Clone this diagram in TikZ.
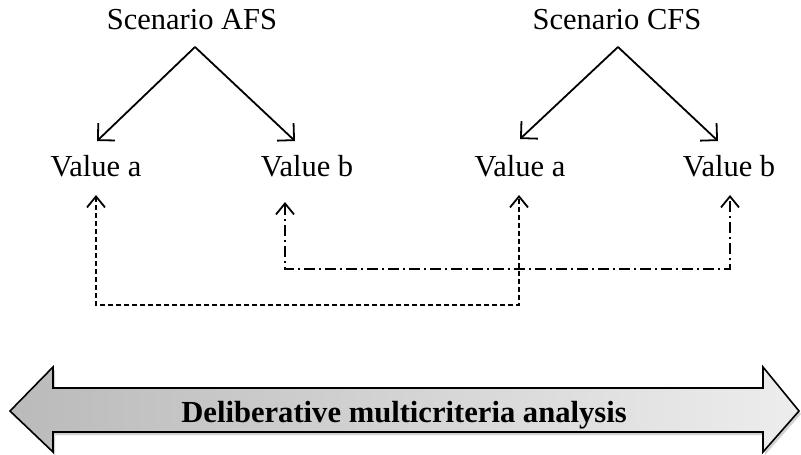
\documentclass[tikz,border=0pt]{standalone}
\usepackage{fontspec}
\setmainfont{Liberation Serif}
\usetikzlibrary{arrows.meta}
\begin{document}
\begin{tikzpicture}[x=1pt,y=-1pt,
  txt/.style={inner sep=0pt, anchor=base, font=\fontsize{30.5}{36}\selectfont},
  split/.style={line width=1.8pt,
    -{Straight Barb[length=12pt,width=24pt,line width=1.8pt]}},
  barbs/.style={line width=1.8pt,
    {Straight Barb[length=11pt,width=18pt,line width=1.8pt]}-{Straight Barb[length=11pt,width=18pt,line width=1.8pt]}},
  linka/.style={barbs, dash pattern=on 5pt off 3pt},
  linkb/.style={barbs, dash pattern=on 11pt off 4pt on 2pt off 4pt},
  banner/.style={draw=black, line width=1.6pt, left color=black!27, right color=black!7},
]
\useasboundingbox (0,0) rectangle (801,455);

% scenario headings
\node[txt] (afs) at (192,30) {Scenario AFS};
\node[txt] (cfs) at (617,30) {Scenario CFS};

% value labels
\node[txt] (va1) at (96,176) {Value a};
\node[txt] (vb1) at (307,176) {Value b};
\node[txt] (va2) at (520,176) {Value a};
\node[txt] (vb2) at (729,176) {Value b};

% branch points
\coordinate (afs-top) at (195,47);
\coordinate (afs-l) at (97,141);
\coordinate (afs-r) at (295,141);
\coordinate (cfs-top) at (618,47);
\coordinate (cfs-l) at (520,139);
\coordinate (cfs-r) at (718,141);

\draw[split] (afs-top) -- (afs-l);
\draw[split] (afs-top) -- (afs-r);
\draw[split] (cfs-top) -- (cfs-l);
\draw[split] (cfs-top) -- (cfs-r);

% comparison links between the scenarios
\coordinate (va1-in) at (96,195);
\coordinate (va2-in) at (519,195);
\coordinate (vb1-in) at (285,202);
\coordinate (vb2-in) at (730,195);

\draw[linka] (va1-in) -- ++(0,110) -| (va2-in);
\draw[linkb] (vb1-in) -- ++(0,67) -| (vb2-in);

% double-headed banner
\fill[black, opacity=0.18]
  (12,414) -- (55,370) -- (55,391) -- (765,391) -- (765,370) -- (801,414)
  -- (765,455) -- (765,435) -- (55,435) -- (55,455) -- cycle;
\path[banner]
  (10,411) -- (53,367) -- (53,388) -- (763,388) -- (763,367) -- (799,411)
  -- (763,452) -- (763,432) -- (53,432) -- (53,452) -- cycle;
\node[inner sep=0pt, anchor=base, font=\bfseries\fontsize{30.6}{36}\selectfont]
  (dma) at (404,422) {Deliberative multicriteria analysis};
\end{tikzpicture}
\end{document}
